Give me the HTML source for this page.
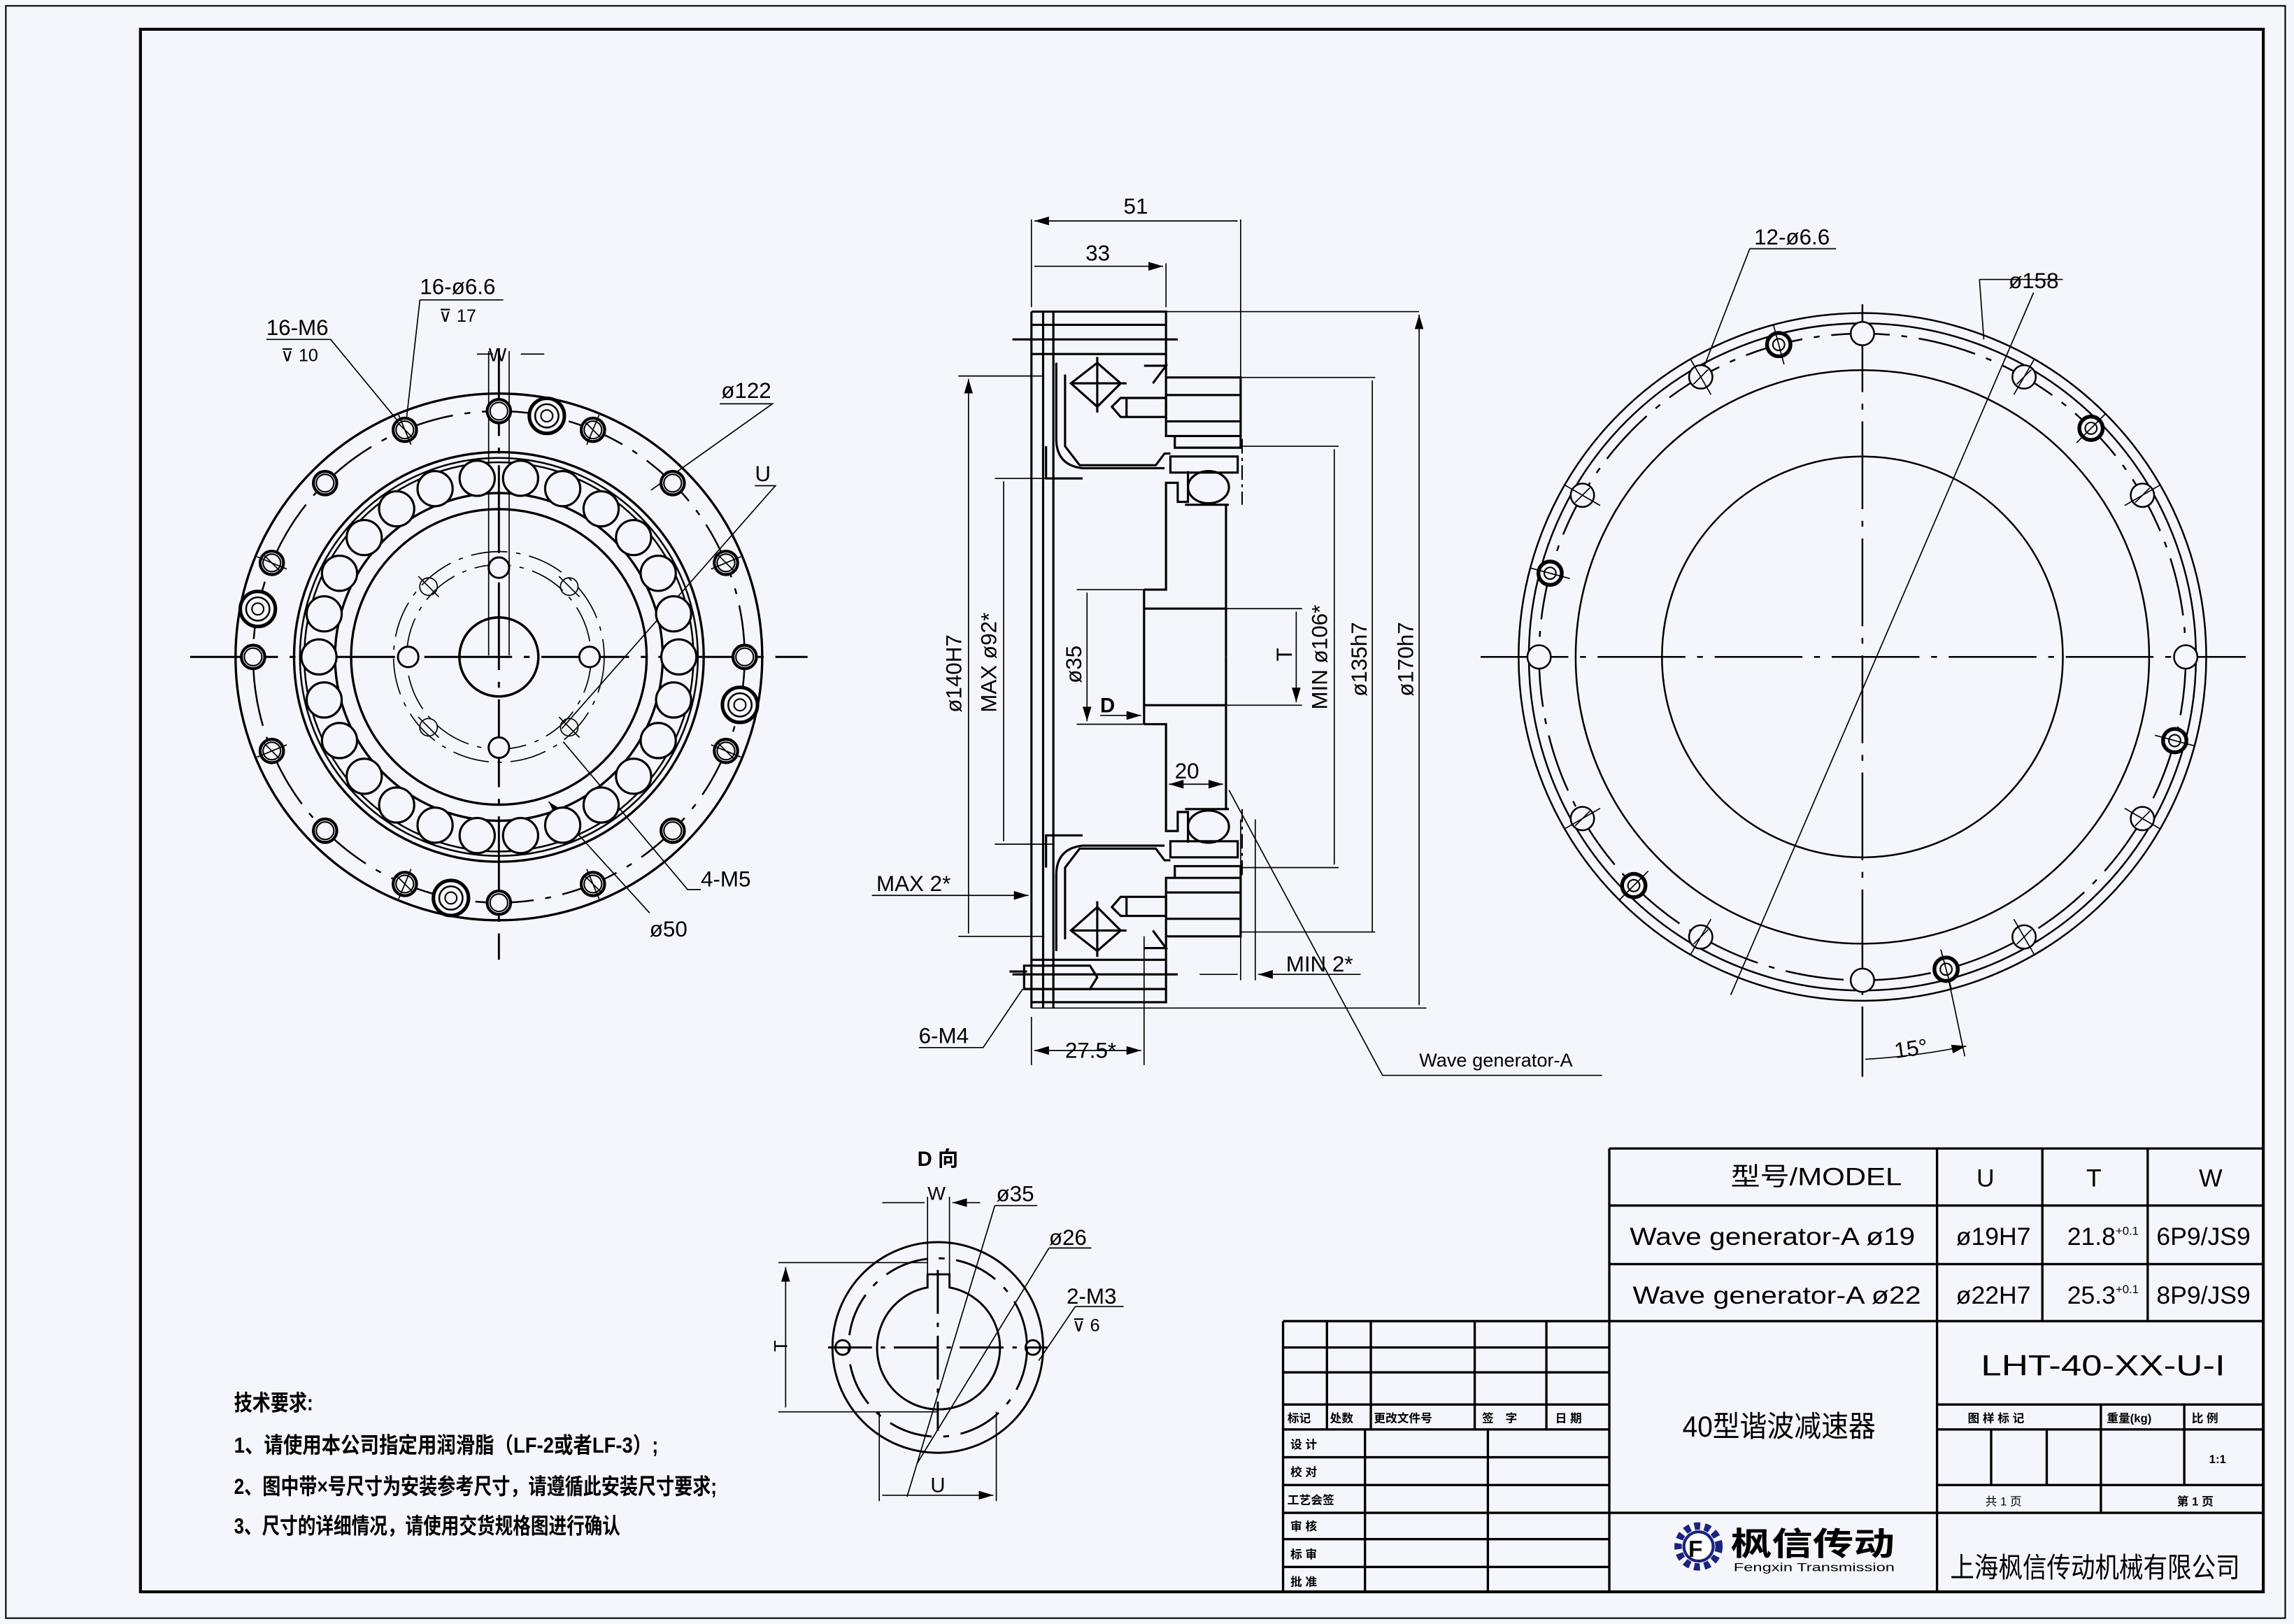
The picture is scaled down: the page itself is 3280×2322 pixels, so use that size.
<!DOCTYPE html>
<html><head><meta charset="utf-8"><style>
html,body{margin:0;padding:0;background:#f4f6fb}
svg{display:block}
text{font-family:"Liberation Sans Narrow","Liberation Sans","Noto Sans CJK SC",sans-serif;fill:#000}
.c{font-family:"Liberation Sans","Noto Sans CJK SC",sans-serif;font-weight:bold}
</style></head><body>
<svg id="s" width="3280" height="2322" viewBox="0 0 1568 1110" preserveAspectRatio="none" xmlns="http://www.w3.org/2000/svg">
<defs>
<marker id="a" viewBox="0 0 10 6" refX="10" refY="3" markerWidth="10" markerHeight="6" orient="auto-start-reverse" markerUnits="userSpaceOnUse"><path d="M0,0L10,3L0,6z" fill="#000"/></marker>
</defs>
<rect x="0" y="0" width="1568" height="1110" fill="#f4f6fb"/>
<rect x="4" y="4" width="1558" height="1102" fill="none" stroke="#000" stroke-width="1"/>
<rect x="96" y="20" width="1451" height="1068" fill="none" stroke="#000" stroke-width="2"/>

<g fill="none" stroke="#000" stroke-width="1.2" id="L">
 <circle cx="341" cy="449" r="180" stroke-width="1.6"/>
 <circle cx="341" cy="449" r="168" stroke-dasharray="40,8,4,8"/>
 <circle cx="341" cy="449" r="140" stroke-width="1.6"/>
 <circle cx="341" cy="449" r="136"/>
 <circle cx="341" cy="449" r="133"/>
 <circle cx="341" cy="449" r="112" stroke-width="1.6"/>
 <circle cx="341" cy="449" r="101" stroke-width="1.6"/>
 <circle cx="341" cy="449" r="27" stroke-width="1.6"/>
 <circle cx="341" cy="449" r="63" stroke-dasharray="25,6,3,6" stroke-width="0.8"/>
 <circle cx="341" cy="449" r="72" stroke-dasharray="25,6,3,6" stroke-width="0.8"/>
 <path d="M130 449H552M341 238V656" stroke-dasharray="60,8,4,8" stroke-width="1.4"/>
</g>

<g fill="none" stroke="#000" stroke-width="1.2" id="R">
 <circle cx="1273" cy="449" r="235"/>
 <circle cx="1273" cy="449" r="228"/>
 <circle cx="1273" cy="449" r="221" stroke-dasharray="40,8,4,8"/>
 <circle cx="1273" cy="449" r="196"/>
 <circle cx="1273" cy="449" r="137"/>
 <path d="M1012 449H1535M1273 208V736" stroke-dasharray="60,8,4,8" stroke-width="1.2"/>
 <path d="M1390 200L1183 680" stroke-width="0.8"/>
 <path d="M1353 191H1410M1353 191L1356 232" stroke-width="0.8"/>
 <path d="M1196 170H1255M1196 170L1165 250" stroke-width="0.8"/>
 <path d="M1273 695V730M1332 670L1343 722M1275 724Q1310 722 1344 715" stroke-width="0.8" marker-end="url(#a)"/>
</g>

<g fill="none" stroke="#000" stroke-width="1.5" id="M">
 <path d="M705 213V689M713 213V689M720 213V689" />
 <g id="half">
  <path d="M705 213H797V258M705 222H797M705 242H797M692 232H805" />
  <path d="M722 248V300Q722 318 740 320H796" />
  <path d="M728 256V305L738 318H790L796 310H800" />
  <path d="M732 262L750 248L766 262L750 278Z M732 262H770 M750 244V282" />
  <path d="M782 250H797L788 262" />
  <path d="M797 258H848V298H797Z M797 270H848M797 288H848 M803 298H848V306H803Z" />
  <path d="M766 272H797V285H766L760 278Z M770 272V285" />
  <path d="M715 305V327H740" />
  <path d="M800 312H846V323H800Z" />
  <ellipse cx="826" cy="333" rx="14" ry="11"/>
  <path d="M812 322V343H805V330H797V403H782M838 345V449M810 345H840" />
  <path d="M849 300V345" stroke-dasharray="10,3,2,3" stroke-width="1"/>
  <path d="M782 416H838" />
 </g>
 <use href="#half" transform="translate(0,898) scale(1,-1)"/>
 <path d="M782 403V495" />
 <path d="M690 664H702M700 660H745L750 668L745 676H700Z M700 660V676" />
</g>

<g fill="none" stroke="#000" stroke-width="0.8" id="dims">
 <path d="M705 150V210M848 150V260M797 180V210M713 213H970M848 258H940M848 305H915M838 416H890M838 482H890M705 689H975"/>
 <path d="M707 151H846M707 182H795" marker-start="url(#a)" marker-end="url(#a)"/>
 <path d="M970 215V687M938 260V637M912 307V591M886 418V480" marker-start="url(#a)" marker-end="url(#a)"/>
 <path d="M655 257H713M680 327H720M736 403H782M736 495H782M655 640H713M680 577H720M848 593H915M848 637H940"/>
 <path d="M662 259V638M686 329V575M743 405V493" marker-start="url(#a)" marker-end="url(#a)"/>
 <path d="M799 536H836" marker-start="url(#a)" marker-end="url(#a)"/>
 <path d="M752 489H780" marker-end="url(#a)"/>
 <path d="M596 612H703" marker-end="url(#a)"/>
 <path d="M707 718H780" marker-start="url(#a)" marker-end="url(#a)"/>
 <path d="M705 695V728M782 640V728M848 560V670M858 560V670"/>
 <path d="M820 666H846M900 666H860" marker-end="url(#a)"/>
 <path d="M860 666H930"/>
 <path d="M628 716H672L699 676"/>
 <path d="M1095 735H945L840 540" />
</g>
<g font-size="15">
 <text x="768" y="146">51</text>
 <text x="742" y="178">33</text>
 <text x="803" y="532">20</text>
 <text x="752" y="487" class="c" font-size="14">D</text>
 <text x="599" y="609">MAX 2*</text>
 <text x="728" y="723">27.5*</text>
 <text x="879" y="664">MIN 2*</text>
 <text x="628" y="713">6-M4</text>
 <text x="970" y="729" font-size="13">Wave generator-A</text>
 <text transform="translate(657,487) rotate(-90)">ø140H7</text>
 <text transform="translate(681,487) rotate(-90)">MAX ø92*</text>
 <text transform="translate(739,467) rotate(-90)">ø35</text>
 <text transform="translate(883,452) rotate(-90)">T</text>
 <text transform="translate(907,485) rotate(-90)">MIN ø106*</text>
 <text transform="translate(934,476) rotate(-90)">ø135h7</text>
 <text transform="translate(966,476) rotate(-90)">ø170h7</text>
 <text x="182" y="229">16-M6</text><text x="192" y="247" font-size="12">⊽ 10</text>
 <text x="287" y="201">16-ø6.6</text><text x="300" y="220" font-size="12">⊽ 17</text>
 <text x="334" y="247" font-size="13">W</text>
 <text x="493" y="272">ø122</text>
 <text x="516" y="329">U</text>
 <text x="479" y="606">4-M5</text>
 <text x="444" y="640">ø50</text>
 <text x="1199" y="167">12-ø6.6</text>
 <text x="1373" y="197">ø158</text>
 <text x="1295" y="722" transform="rotate(-8 1305 718)">15°</text>
</g>
<g fill="none" stroke="#000" stroke-width="0.8">
 <path d="M182 232H226L282 300M287 205H344M287 205L278 285M492 276H528L445 335M516 332H530L384 498M479 608H470L385 507M444 624L375 548" marker-end="url(#a)"/>
 <path d="M326 242H337M356 242H372M334 240V448M348 240V448" />
</g>

<g fill="none" stroke="#000" stroke-width="1.4">
 <circle cx="641" cy="921" r="72"/>
 <circle cx="641" cy="921" r="61" stroke-dasharray="30,8,4,8"/>
 <path d="M634 880A42 42 0 1 0 649 880V871H634Z" fill="#f4f6fb"/>
 <path d="M566 921H716M641 868V978" stroke-dasharray="30,6,3,6"/>
 <circle cx="576" cy="921" r="5"/><circle cx="706" cy="921" r="5"/>
</g>
<g fill="none" stroke="#000" stroke-width="0.8">
 <path d="M634 818V880M649 818V880M603 822H632M670 822H651" marker-end="url(#a)"/>
 <path d="M532 863H634M532 965H641M601 965V1026M681 965V1026" />
 <path d="M537 866V962M603 1022H679" marker-start="url(#a)" marker-end="url(#a)"/>
 <path d="M680 824H709M680 824L620 1023M717 853H746M717 853L627 1000M735 893H768M735 893L710 930" />
</g>
<g font-size="15">
 <text x="627" y="797" class="c" font-size="14">D 向</text>
 <text x="634" y="820" font-size="13">W</text>
 <text x="681" y="821">ø35</text>
 <text x="717" y="851">ø26</text>
 <text x="729" y="891">2-M3</text><text x="733" y="910" font-size="12">⊽ 6</text>
 <text transform="translate(538,924) rotate(-90)" font-size="13">T</text>
 <text x="636" y="1020" font-size="14">U</text>
</g>
<g class="c" font-size="15">
 <text x="160" y="964" textLength="54" lengthAdjust="spacingAndGlyphs">技术要求:</text>
 <text x="160" y="993" textLength="290" lengthAdjust="spacingAndGlyphs">1、请使用本公司指定用润滑脂（LF-2或者LF-3）;</text>
 <text x="160" y="1021" textLength="330" lengthAdjust="spacingAndGlyphs">2、图中带×号尺寸为安装参考尺寸，请遵循此安装尺寸要求;</text>
 <text x="160" y="1048" textLength="264" lengthAdjust="spacingAndGlyphs">3、尺寸的详细情况，请使用交货规格图进行确认</text>
</g>

<g fill="none" stroke="#000" stroke-width="1.6">
 <path d="M1100 785H1547M1100 824H1547M1100 864H1547M877 903H1547M1100 785V1088M1324 785V1088M1396 785V903M1468 785V903"/>
 <path d="M877 903V1088M877 921H1100M877 938H1100M877 960H1100M877 977H1100M877 996H1100M877 1015H1100M877 1034H1100M877 1052H1100M877 1071H1100"/>
 <path d="M907 903V977M937 903V977M1008 903V977M1057 903V977M933 977V1088M1017 977V1088"/>
 <path d="M1324 960H1547M1324 977H1547M1324 1015H1547M1324 1034H1547M1100 1034H1324M1436 960V1034M1493 960V1015M1361 977V1015M1399 977V1015"/>
</g>
<g font-size="17">
 <text x="1183" y="810" textLength="117" lengthAdjust="spacingAndGlyphs">型号/MODEL</text>
 <text x="1351" y="811">U</text><text x="1426" y="811">T</text><text x="1503" y="811">W</text>
 <text x="1114" y="851" textLength="195" lengthAdjust="spacingAndGlyphs">Wave generator-A ø19</text>
 <text x="1116" y="891" textLength="197" lengthAdjust="spacingAndGlyphs">Wave generator-A ø22</text>
 <text x="1337" y="851">ø19H7</text><text x="1337" y="891">ø22H7</text>
 <text x="1413" y="851">21.8<tspan font-size="8" dy="-7">+0.1</tspan></text>
 <text x="1413" y="891">25.3<tspan font-size="8" dy="-7">+0.1</tspan></text>
 <text x="1474" y="851">6P9/JS9</text><text x="1474" y="891">8P9/JS9</text>
 <text x="1354" y="940" font-size="20" textLength="167" lengthAdjust="spacingAndGlyphs">LHT-40-XX-U-I</text>
 <text x="1150" y="982" font-size="20" textLength="132" lengthAdjust="spacingAndGlyphs">40型谐波减速器</text>
 <text x="1333" y="1078" font-size="19" fill="#222" textLength="198" lengthAdjust="spacingAndGlyphs">上海枫信传动机械有限公司</text>
</g>
<g class="c" font-size="8">
 <text x="880" y="972">标记</text><text x="909" y="972">处数</text><text x="939" y="972">更改文件号</text><text x="1013" y="972">签　字</text><text x="1063" y="972">日 期</text>
 <text x="882" y="990">设 计</text><text x="882" y="1009">校 对</text><text x="880" y="1028">工艺会签</text><text x="882" y="1046">审 核</text><text x="882" y="1065">标 审</text><text x="882" y="1084">批 准</text>
 <text x="1345" y="972">图 样 标 记</text><text x="1440" y="972">重量(kg)</text><text x="1498" y="972">比 例</text>
 <text x="1510" y="1000">1:1</text>
 <text x="1357" y="1029" style="font-weight:normal">共 1 页</text><text x="1488" y="1029">第 1 页</text>
</g>
<g>
 <circle cx="1161" cy="1057" r="14" fill="none" stroke="#1a237e" stroke-width="5" stroke-dasharray="4,3"/>
 <circle cx="1161" cy="1057" r="10" fill="#fff" stroke="#1a237e" stroke-width="2"/>
 <text x="1154" y="1064" font-size="16" class="c" fill="#d32f2f">F</text>
 <text x="1183" y="1063" font-size="22" class="c" fill="#1a237e" textLength="112" lengthAdjust="spacingAndGlyphs">枫信传动</text>
 <text x="1185" y="1074" font-size="8" fill="#1a237e" textLength="110" lengthAdjust="spacingAndGlyphs">Fengxin Transmission</text>
</g>
<g id="holes" fill="none" stroke="#000" stroke-width="1.4"></g>
</svg>
<script>
var g=document.getElementById('holes'),NS='http://www.w3.org/2000/svg';
function c(x,y,r,w,f){var e=document.createElementNS(NS,'circle');e.setAttribute('cx',x);e.setAttribute('cy',y);e.setAttribute('r',r);e.setAttribute('stroke-width',w||1.4);if(f)e.setAttribute('fill',f);g.appendChild(e);}
function l(x1,y1,x2,y2,w){var e=document.createElementNS(NS,'line');e.setAttribute('x1',x1);e.setAttribute('y1',y1);e.setAttribute('x2',x2);e.setAttribute('y2',y2);e.setAttribute('stroke-width',w||0.8);g.appendChild(e);}
var d=Math.PI/180,i,a,x,y;
for(i=0;i<16;i++){a=i*22.5*d;x=341+168*Math.cos(a);y=449+168*Math.sin(a);c(x,y,8,2,'#f4f6fb');c(x,y,6,1);if(i%2){l(x-11*Math.cos(a),y-11*Math.sin(a),x+11*Math.cos(a),y+11*Math.sin(a));l(x-6,y-6,x+6,y+6);}}
for(i=0;i<4;i++){a=(11.25+90*i)*d;x=341+168*Math.cos(a);y=449+168*Math.sin(a);c(x,y,12,2.4,'#f4f6fb');c(x,y,8,1.2);c(x,y,4,1);}
for(i=0;i<26;i++){a=i*360/26*d;x=341+123*Math.cos(a);y=449+123*Math.sin(a);c(x,y,12,1.5,'#f4f6fb');}
[[403,449],[279,449],[341,511],[341,388]].forEach(function(p){c(p[0],p[1],7,1.4,'#f4f6fb');});
for(i=0;i<4;i++){a=(45+90*i)*d;x=341+68*Math.cos(a);y=449+68*Math.sin(a);c(x,y,6,0.8);l(x-7,y-7,x+7,y+7);}
c(341,449,27,1.6);
for(i=0;i<24;i++){a=i*15*d;x=1273+221*Math.cos(a);y=449+221*Math.sin(a);
 if(i%6==0){c(x,y,8,1.2,'#f4f6fb');}
 else if(i%2==0){c(x,y,8,1.2,'#f4f6fb');l(x-14*Math.cos(a),y-14*Math.sin(a),x+14*Math.cos(a),y+14*Math.sin(a));l(x-5,y+5,x+5,y-5);}
 else if(i%4==1){c(x,y,8,2.6,'#f4f6fb');c(x,y,4,1);l(x-14*Math.cos(a),y-14*Math.sin(a),x+14*Math.cos(a),y+14*Math.sin(a));}
}
</script>
</body></html>
